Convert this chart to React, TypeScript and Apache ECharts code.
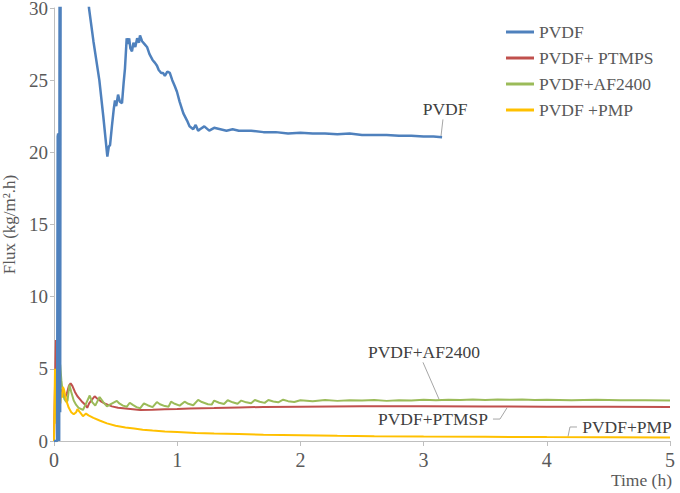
import React, { useEffect, useRef } from "react";
import * as echarts from "echarts";

// ---------- data (time in h, flux in kg/m².h) ----------
const seriesNames = ["PVDF", "PVDF+ PTMPS", "PVDF+AF2400", "PVDF +PMP"];
const seriesColors = ["#4F81BD", "#C0504D", "#9BBB59", "#FFC000"];

const xTicks = [0, 1, 2, 3, 4, 5];
const yTicks = [0, 5, 10, 15, 20, 25, 30];

const pvdfTime = [
  0.0, 0.025, 0.03, 0.034, 0.038, 0.042, 0.046, 0.05, 0.055, 0.06, 0.15, 0.284,
  0.32, 0.368, 0.4, 0.433, 0.445, 0.455, 0.47, 0.485, 0.495, 0.505, 0.52, 0.535,
  0.552, 0.565, 0.576, 0.59, 0.6, 0.61, 0.62, 0.633, 0.645, 0.66, 0.675, 0.69,
  0.698, 0.715, 0.735, 0.755, 0.775, 0.8, 0.82, 0.836, 0.85, 0.87, 0.885, 0.9,
  0.92, 0.94, 0.96, 0.98, 0.998, 1.02, 1.05, 1.08, 1.1, 1.13, 1.15, 1.17, 1.185,
  1.22, 1.26, 1.3, 1.35, 1.4, 1.45, 1.5, 1.6, 1.7, 1.8, 1.9, 2.0, 2.1, 2.2, 2.3,
  2.4, 2.5, 2.6, 2.7, 2.8, 2.9, 3.0, 3.08, 3.15,
];
const pvdfFlux = [
  0, 0, 21.1, 21.3, 0.5, 0, 38, 2, 45, 60, 42, 30.0,
  27.7, 25.0, 22.5, 19.7, 20.4, 20.5, 21.8, 23.0, 23.6, 23.2, 24.0, 23.5,
  23.4, 24.8, 25.8, 27.9, 27.5, 27.9, 27.2, 27.0, 27.6, 27.3, 27.9, 27.6,
  28.1, 27.7, 27.5, 27.3, 26.8, 26.4, 26.2, 26.0, 25.7, 25.5, 25.5, 25.3,
  25.6, 25.5, 25.0, 24.6, 24.2, 23.5, 22.7, 22.2, 21.8, 21.6, 21.9, 21.5, 21.6,
  21.8, 21.5, 21.7, 21.6, 21.5, 21.6, 21.5, 21.5, 21.4, 21.4, 21.3, 21.35, 21.3, 21.3, 21.25,
  21.3, 21.2, 21.2, 21.2, 21.15, 21.15, 21.1, 21.1, 21.05,
];

const ptmpsTime = [
  0.0, 0.005, 0.015, 0.02, 0.025, 0.03, 0.04, 0.05, 0.06, 0.075, 0.09, 0.105,
  0.12, 0.135, 0.15, 0.17, 0.19, 0.21, 0.23, 0.255, 0.27, 0.285, 0.33, 0.35,
  0.38, 0.41, 0.44, 0.47, 0.52, 0.58, 0.64, 0.7, 0.8, 0.9, 1.0, 1.1, 1.3, 1.5,
  1.7, 2.0, 2.5, 3.0, 3.5, 4.0, 4.5, 5.0,
];
const ptmpsFlux = [
  0, 0, 7.0, 3.0, 4.6, 2.2, 3.8, 3.0, 3.6, 3.3, 3.0, 3.3,
  3.8, 4.0, 3.8, 3.4, 3.1, 2.9, 2.7, 2.5, 2.3, 2.6, 3.1, 2.95,
  2.75, 2.6, 2.5, 2.4, 2.3, 2.25, 2.2, 2.15, 2.17, 2.2, 2.22, 2.25, 2.28, 2.32,
  2.36, 2.38, 2.4, 2.4, 2.39, 2.38, 2.37, 2.36,
];

const af2400Time = [
  0.0, 0.025, 0.03, 0.04, 0.05, 0.06, 0.07, 0.085, 0.1, 0.11, 0.125, 0.14, 0.16,
  0.18, 0.2, 0.235, 0.255, 0.29, 0.31, 0.335, 0.37, 0.4, 0.43, 0.45, 0.51, 0.53,
  0.56, 0.59, 0.615, 0.64, 0.67, 0.7, 0.73, 0.76, 0.8, 0.835, 0.86, 0.9, 0.93,
  0.95, 0.98, 1.02, 1.06, 1.09, 1.13, 1.17, 1.2, 1.25, 1.28, 1.3, 1.34, 1.38,
  1.41, 1.45, 1.49, 1.52, 1.56, 1.6, 1.63, 1.67, 1.71, 1.74, 1.78, 1.82, 1.86,
  1.9, 1.95, 2.0, 2.1, 2.2, 2.3, 2.4, 2.5, 2.6, 2.7, 2.8, 2.9, 3.0, 3.1, 3.2,
  3.3, 3.4, 3.5, 3.6, 3.7, 3.8, 3.9, 4.0, 4.2, 4.4, 4.6, 4.8, 5.0,
];
const af2400Flux = [
  0, 0, 2.0, 4.0, 5.3, 4.2, 3.4, 2.9, 2.7, 2.8, 3.9, 3.4, 2.8,
  2.5, 2.3, 2.15, 2.5, 3.15, 2.7, 2.45, 3.05, 2.7, 2.4, 2.5, 2.78, 2.6,
  2.45, 2.37, 2.65, 2.5, 2.35, 2.27, 2.6, 2.48, 2.35, 2.7, 2.55, 2.42, 2.38,
  2.72, 2.58, 2.45, 2.72, 2.58, 2.48, 2.85, 2.7, 2.55, 2.52, 2.8, 2.65, 2.56,
  2.82, 2.68, 2.58, 2.8, 2.68, 2.62, 2.84, 2.72, 2.64, 2.84, 2.74, 2.68, 2.86,
  2.76, 2.7, 2.82, 2.76, 2.84, 2.78, 2.82, 2.8, 2.84, 2.78, 2.82, 2.8, 2.85, 2.82, 2.86,
  2.84, 2.88, 2.84, 2.88, 2.85, 2.87, 2.84, 2.86, 2.83, 2.85, 2.82, 2.83, 2.8,
];

const pmpTime = [
  0.0, 0.005, 0.008, 0.012, 0.016, 0.02, 0.024, 0.028, 0.032, 0.036, 0.04,
  0.044, 0.048, 0.052, 0.058, 0.065, 0.072, 0.08, 0.09, 0.1, 0.12, 0.14, 0.16,
  0.18, 0.19, 0.21, 0.235, 0.26, 0.28, 0.32, 0.37, 0.43, 0.5, 0.58, 0.65, 0.72,
  0.8, 0.9, 1.0, 1.15, 1.3, 1.5, 1.7, 2.0, 2.3, 2.6, 3.0, 3.5, 4.0, 4.5, 5.0,
];
const pmpFlux = [
  0, 0, 5.0, 2.0, 4.5, 1.2, 3.6, 1.6, 4.8, 2.5, 3.8,
  2.2, 3.0, 2.6, 3.4, 3.0, 3.75, 3.6, 3.2, 2.8, 2.3, 2.0, 1.85,
  2.0, 2.2, 2.0, 1.72, 1.9, 1.78, 1.6, 1.42, 1.22, 1.06, 0.94, 0.86, 0.78,
  0.72, 0.66, 0.62, 0.56, 0.52, 0.48, 0.44, 0.4, 0.36, 0.33, 0.31, 0.29, 0.27, 0.26, 0.25,
];

const zip = (xs: number[], ys: number[]) => xs.map((x, i) => [x, ys[i]]);

const FONT = "Liberation Serif";
const TXT = "#595959";
const AXIS = "#BFBFBF";

export default function App() {
  const ref = useRef<HTMLDivElement>(null);

  useEffect(() => {
    if (!ref.current) return;
    const chart = echarts.init(ref.current, null, { renderer: "svg" });
    const seriesData = [
      zip(pvdfTime, pvdfFlux),
      zip(ptmpsTime, ptmpsFlux),
      zip(af2400Time, af2400Flux),
      zip(pmpTime, pmpFlux),
    ];
    const drawOrder = [1, 2, 3, 0];
    const widths = [2.5, 2, 2, 2];
    chart.setOption({
      animation: false,
      backgroundColor: "#ffffff",
      textStyle: { fontFamily: FONT },
      grid: { left: 54, right: 10, top: 8, bottom: 52, containLabel: false, outerBoundsMode: "none" },
      legend: {
        orient: "vertical",
        left: 506,
        top: 23,
        padding: 0,
        itemWidth: 28,
        itemHeight: 3,
        itemGap: 8,
        icon: "rect",
        data: seriesNames,
        textStyle: { fontFamily: FONT, fontSize: 17.5, color: TXT, lineHeight: 17 },
      },
      xAxis: {
        type: "value",
        min: xTicks[0],
        max: xTicks[xTicks.length - 1],
        interval: 1,
        axisLine: { show: true, lineStyle: { color: AXIS, width: 1 } },
        axisTick: { show: true, length: 5, lineStyle: { color: AXIS } },
        axisLabel: { fontFamily: FONT, fontSize: 20, color: TXT, margin: 9 },
        splitLine: { show: false },
      },
      yAxis: {
        type: "value",
        min: yTicks[0],
        max: yTicks[yTicks.length - 1],
        interval: 5,
        name: "Flux (kg/m².h)",
        nameLocation: "middle",
        nameGap: 35,
        nameTextStyle: { fontFamily: FONT, fontSize: 17, color: TXT },
        axisLine: { show: true, lineStyle: { color: AXIS, width: 1 } },
        axisTick: { show: true, length: 4, lineStyle: { color: AXIS } },
        axisLabel: { fontFamily: FONT, fontSize: 19, color: TXT, margin: 6, lineHeight: 16 },
        splitLine: { show: false },
      },
      series: drawOrder.map((i) => ({
        name: seriesNames[i],
        type: "line",
        data: seriesData[i],
        showSymbol: false,
        symbol: "none",
        clip: true,
        color: seriesColors[i],
        lineStyle: { color: seriesColors[i], width: widths[i] },
      })),
    });

    const p = (x: number, y: number) => chart.convertToPixel({ gridIndex: 0 }, [x, y]) as number[];
    const label = (text: string, x: number, y: number) => {
      const q = p(x, y);
      return {
        type: "text",
        x: q[0],
        y: q[1],
        style: {
          text,
          fontFamily: FONT,
          fontSize: 17.5,
          fill: "#404040",
          align: "center",
          verticalAlign: "middle",
        },
      };
    };
    const leader = (pts: number[][]) => ({
      type: "polyline",
      shape: { points: pts.map((d) => p(d[0], d[1])) },
      style: { stroke: "#A6A6A6", lineWidth: 1, fill: null },
    });
    const xEnd = p(xTicks[xTicks.length - 1], 0);
    chart.setOption({
      graphic: [
        label("PVDF", 3.174, 23.03),
        leader([[3.157, 22.28], [3.141, 21.1]]),
        label("PVDF+AF2400", 3.003, 6.14),
        leader([[2.995, 5.45], [3.125, 2.9]]),
        label("PVDF+PTMSP", 3.076, 1.52),
        leader([[3.563, 1.52], [3.62, 1.52], [3.677, 2.3]]),
        label("PVDF+PMP", 4.651, 0.97),
        leader([[4.172, 0.3], [4.188, 0.97], [4.245, 0.97]]),
        {
          type: "text",
          x: xEnd[0] + 2,
          y: xEnd[1] + 39,
          style: {
            text: "Time (h)",
            fontFamily: FONT,
            fontSize: 17.5,
            fill: TXT,
            align: "right",
            verticalAlign: "middle",
          },
        },
      ],
    });
    return () => chart.dispose();
  }, []);

  return (
    <div
      ref={ref}
      style={{ position: "fixed", left: 0, top: 0, width: 680, height: 493, background: "#fff" }}
    />
  );
}
